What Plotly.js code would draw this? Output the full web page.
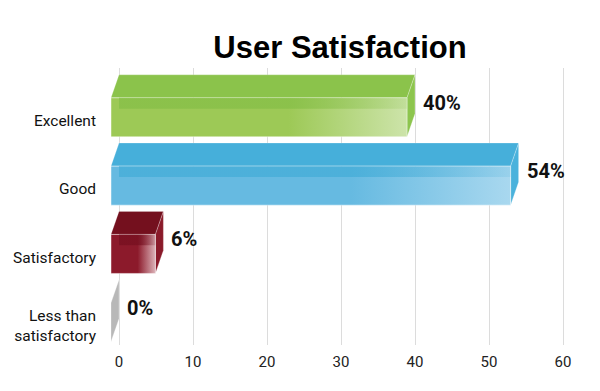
<!DOCTYPE html>
<html>
<head>
<meta charset="utf-8">
<script src="https://cdn.plot.ly/plotly-3.0.1.min.js"></script>
<style>html,body{margin:0;padding:0;background:#fff;}#chart{width:600px;height:391px;}</style>
</head>
<body>
<div id="chart"></div>
<script>
// ---- data ----
const categories = ['Excellent', 'Good', 'Satisfactory', 'Less than<br>satisfactory'];
const values = [40, 54, 6, 0];
const valueLabels = ['40%', '54%', '6%', '0%'];
const xTicks = [0, 10, 20, 30, 40, 50, 60];

// ---- style ----
const palette = [
  {top: '#8bc34b', front: '#9dc956', pale: '#cde4aa', band: 'rgba(132,190,70,0.7)', bandFade: 'rgba(132,190,70,0.15)', side: '#8dc54e'},
  {top: '#46afda', front: '#66bae1', pale: '#a9d8ef', band: 'rgba(66,172,215,0.7)', bandFade: 'rgba(66,172,215,0.15)', side: '#4ab2dc'},
  {top: '#74101e', front: '#8c1a2b', pale: '#dcb2b8', band: 'rgba(115,14,30,0.65)', bandFade: 'rgba(115,14,30,0.15)', side: '#8a1a2a'},
  {top: '#b9b9b9', front: '#bdbdbd', pale: '#dddddd', band: 'rgba(170,170,170,0.6)', bandFade: 'rgba(170,170,170,0.1)', side: '#b8b8b8'}
];
const DX = 1.08;   // depth offset, x units
const DY = 0.337;  // depth offset, y units
const H = 0.571;   // face height
const Y0 = 0.1;
const BAND = 0.16;

const traces = [];
const base = {type: 'scatter', mode: 'lines', fill: 'toself', hoverinfo: 'skip', showlegend: false};

values.forEach((v, i) => {
  const c = palette[i];
  const yb = Y0 + i, yf = yb + DY, yfb = yf + H, ybb = yb + H;
  if (v > 0) {
    // top face
    traces.push(Object.assign({}, base, {
      x: [0, v, v - DX, -DX, 0], y: [yb, yb, yf, yf, yb],
      fillcolor: c.top, line: {width: 0.8, color: 'rgba(255,255,255,0.25)'}
    }));
  }
  // right end face
  traces.push(Object.assign({}, base, {
    x: [v, v, v - DX, v - DX, v], y: [yb, ybb, yfb, yf, yb],
    fillcolor: c.side, line: {width: 0.8, color: 'rgba(255,255,255,0.35)'}
  }));
  if (v > 0) {
    // front face
    traces.push(Object.assign({}, base, {
      x: [-DX, v - DX, v - DX, -DX, -DX], y: [yf, yf, yfb, yfb, yf],
      fillgradient: {type: 'horizontal', colorscale: [[0, c.front], [0.6, c.front], [1, c.pale]]},
      line: {width: 1, color: 'rgba(255,255,255,0.45)'}
    }));
    // darker band (back face seen through the front)
    traces.push(Object.assign({}, base, {
      x: [0, v - DX, v - DX, 0, 0], y: [yf, yf, yf + BAND, yf + BAND, yf],
      fillgradient: {type: 'horizontal', colorscale: [[0, c.band], [0.6, c.band], [1, c.bandFade]]},
      line: {width: 0}
    }));
  }
});

const annotations = values.map((v, i) => ({
  x: v, y: Y0 + i + 0.41, xref: 'x', yref: 'y',
  text: valueLabels[i], showarrow: false, xanchor: 'left', yanchor: 'middle', xshift: 6,
  font: {family: 'Roboto, sans-serif', size: 20, weight: 'bold', color: '#111'}
}));

const layout = {
  width: 600, height: 391,
  margin: {l: 105, r: 25, t: 68, b: 46},
  paper_bgcolor: '#fff', plot_bgcolor: '#fff',
  title: {
    text: '<b>User Satisfaction</b>', x: 0.5, xref: 'paper', xanchor: 'center',
    y: 1 - 47 / 391, yref: 'container', yanchor: 'middle',
    font: {family: 'Liberation Sans, Arial, sans-serif', size: 31, color: '#000'}
  },
  xaxis: {
    range: [-1.892, 61.62], tickvals: xTicks, ticktext: xTicks.map(String),
    showgrid: true, gridcolor: '#dcdcdc', gridwidth: 1, zeroline: false, showline: false,
    ticks: '', ticklabelstandoff: 6,
    tickfont: {family: 'Roboto, sans-serif', size: 15, color: '#222'}, fixedrange: true
  },
  yaxis: {
    range: [4.056, 0], tickvals: categories.map((_, i) => i + 0.77), ticktext: categories,
    showgrid: false, zeroline: false, showline: false, ticks: '', ticklabelstandoff: 8,
    tickfont: {family: 'Roboto, sans-serif', size: 15.5, color: '#111'}, fixedrange: true
  },
  annotations: annotations
};

Plotly.newPlot('chart', traces, layout, {displayModeBar: false, staticPlot: true});
</script>
</body>
</html>
